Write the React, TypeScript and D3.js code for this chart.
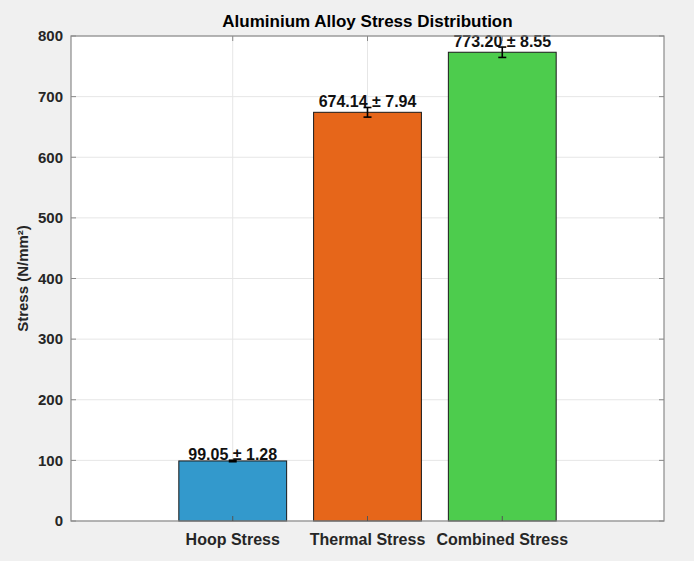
import React from "react";
import * as d3 from "d3";

const categories = ["Hoop Stress", "Thermal Stress", "Combined Stress"];
const means = [99.05, 674.14, 773.2];
const errors = [1.28, 7.94, 8.55];
const barColors = ["#3399cc", "#e6661a", "#4dcc4d"];
const yTicks = [0, 100, 200, 300, 400, 500, 600, 700, 800];
const title = "Aluminium Alloy Stress Distribution";
const yLabel = "Stress (N/mm²)";

const W = 694, H = 561;
const L = 71, R = 664, T = 36, B = 521;
const font = "'Liberation Sans', Arial, Helvetica, sans-serif";

export default function App() {
  const x = d3.scaleLinear().domain([-0.2, 4.2]).range([L, R]);
  const y = d3.scaleLinear().domain([0, 800]).range([B, T]);
  const bw = x(0.8) - x(0);
  return (
    <svg width={W} height={H} style={{ position: "absolute", left: 0, top: 0 }} fontFamily={font}>
      <rect x={0} y={0} width={W} height={H} fill="#f0f0f0" />
      <rect x={L} y={T} width={R - L} height={B - T} fill="#ffffff" />
      {yTicks.map((t) => (
        <line key={"gy" + t} x1={L} x2={R} y1={y(t)} y2={y(t)} stroke="#e6e6e6" strokeWidth={1} />
      ))}
      {categories.map((c, i) => (
        <line key={"gx" + c} x1={x(i + 1)} x2={x(i + 1)} y1={T} y2={B} stroke="#e6e6e6" strokeWidth={1} />
      ))}
      {categories.map((c, i) => (
        <rect key={"b" + c} x={x(i + 1) - bw / 2} y={y(means[i])} width={bw} height={B - y(means[i])}
          fill={barColors[i]} stroke="#1a1a1a" strokeWidth={1} />
      ))}
      {categories.map((c, i) => {
        const cx = x(i + 1);
        const y1 = y(means[i] - errors[i]);
        const y2 = y(means[i] + errors[i]);
        return (
          <g key={"e" + c} stroke="#000" strokeWidth={1.6}>
            <line x1={cx} x2={cx} y1={y1} y2={y2} />
            <line x1={cx - 4} x2={cx + 4} y1={y1} y2={y1} />
            <line x1={cx - 4} x2={cx + 4} y1={y2} y2={y2} />
          </g>
        );
      })}
      {categories.map((c, i) => (
        <text key={"l" + c} x={x(i + 1)} y={y(means[i] + errors[i])} textAnchor="middle"
          fontSize={16} fontWeight="bold" fill="#111">
          {`${means[i].toFixed(2)} ± ${errors[i].toFixed(2)}`}
        </text>
      ))}
      <rect x={L} y={T} width={R - L} height={B - T} fill="none" stroke="#8a8a8a" strokeWidth={1.2} />
      {yTicks.map((t) => (
        <g key={"yt" + t}>
          <line x1={L} x2={L + 5} y1={y(t)} y2={y(t)} stroke="#8a8a8a" />
          <line x1={R} x2={R - 5} y1={y(t)} y2={y(t)} stroke="#8a8a8a" />
          <text x={L - 8} y={y(t)} dy="0.35em" textAnchor="end" fontSize={15} fontWeight="bold" fill="#262626">{t}</text>
        </g>
      ))}
      {categories.map((c, i) => (
        <g key={"xt" + c}>
          <line x1={x(i + 1)} x2={x(i + 1)} y1={B} y2={B - 5} stroke="#555" />
          <line x1={x(i + 1)} x2={x(i + 1)} y1={T} y2={T + 5} stroke="#8a8a8a" />
          <text x={x(i + 1)} y={545} textAnchor="middle" fontSize={16} fontWeight="bold" fill="#262626">{c}</text>
        </g>
      ))}
      <text x={(L + R) / 2} y={27} textAnchor="middle" fontSize={17} fontWeight="bold" fill="#000">{title}</text>
      <text transform={`translate(28,${(T + B) / 2}) rotate(-90)`} textAnchor="middle" fontSize={15} fontWeight="bold" fill="#262626">{yLabel}</text>
    </svg>
  );
}
